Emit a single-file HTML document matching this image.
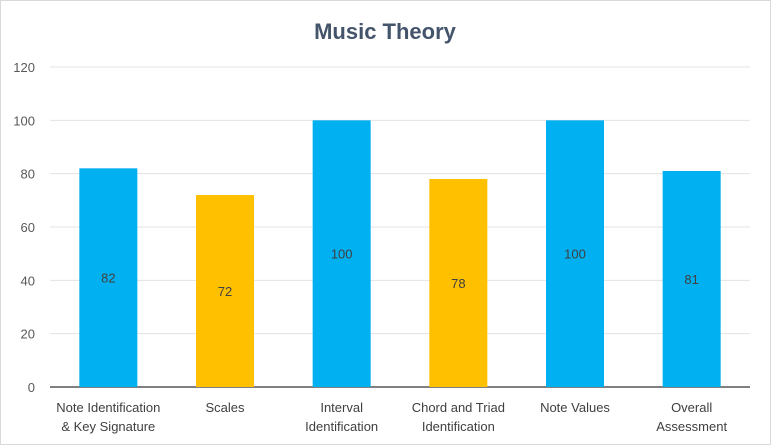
<!DOCTYPE html>
<html><head><meta charset="utf-8"><style>
body{margin:0;background:#fff;}
svg{display:block;font-family:"Liberation Sans",sans-serif;}
</style></head><body>
<svg id="chart" width="771" height="445">
<rect x="0.5" y="0.5" width="770" height="444" fill="#fff" stroke="#d9d9d9"/>
<text x="385" y="39" text-anchor="middle" font-size="22" font-weight="bold" fill="#44546a">Music Theory</text>
<g id="grid"></g><g id="bars"></g><g id="labels"></g>
</svg>
<script>
const categories=[["Note Identification","& Key Signature"],["Scales"],["Interval","Identification"],["Chord and Triad","Identification"],["Note Values"],["Overall","Assessment"]];
const values=[82,72,100,78,100,81];
const colors=["#00b0f0","#ffc000","#00b0f0","#ffc000","#00b0f0","#00b0f0"];
const ticks=[0,20,40,60,80,100,120];
const NS="http://www.w3.org/2000/svg";
const L=50,R=750,T=67,B=387,maxV=120;
const y=v=>B-(v/maxV)*(B-T);
const bw=(R-L)/categories.length;
const x=i=>L+bw*(i+0.5);
function mk(tag,attrs,parent,txt){const e=document.createElementNS(NS,tag);for(const k in attrs)e.setAttribute(k,attrs[k]);if(txt!==undefined)e.textContent=txt;parent.appendChild(e);return e;}
const grid=document.getElementById('grid'),bars=document.getElementById('bars'),labels=document.getElementById('labels');
ticks.forEach(t=>{
  const ln=mk('line',{x1:L,x2:R,y1:y(t),y2:y(t),stroke:t===0?'#000':'#e3e3e3','stroke-width':1},grid);
  
  
  const tx=mk('text',{x:35,y:y(t)+5,'text-anchor':'end','font-size':13,fill:'#595959'},grid,t);
  
  
});
values.forEach((v,i)=>{
  const w=58;
  const r=mk('rect',{x:x(i)-w/2,y:y(v),width:w,height:B-y(v),fill:colors[i]},bars);
  
  
  const vl=mk('text',{x:x(i),y:(y(v)+B)/2+5,'text-anchor':'middle','font-size':13,fill:'#404040'},labels,v);
  
  
  categories[i].forEach((line,j)=>{
    const c=mk('text',{x:x(i),y:412+j*19,'text-anchor':'middle','font-size':13,fill:'#404040'},labels,line);
    
    
  });
});
</script>
</body></html>
